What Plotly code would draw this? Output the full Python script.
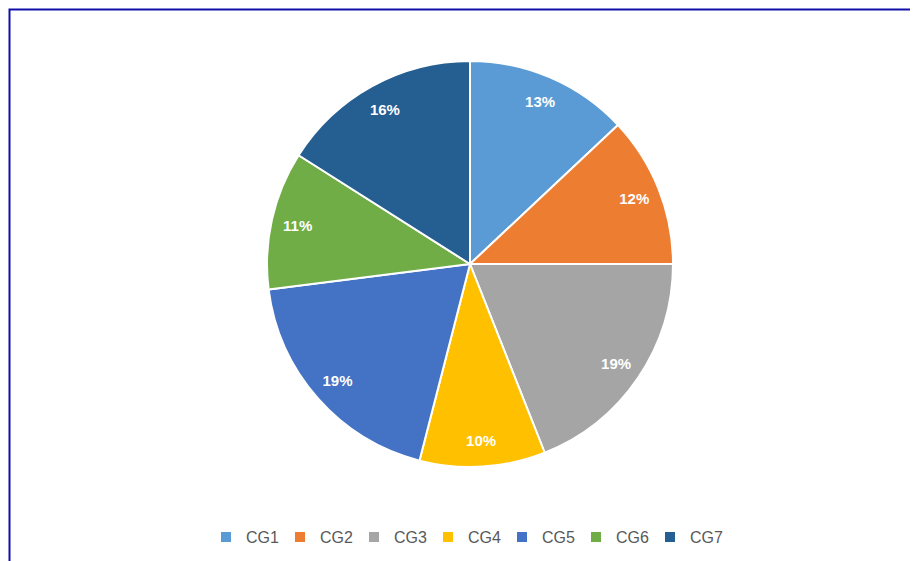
import plotly.graph_objects as go

categories = ["CG1", "CG2", "CG3", "CG4", "CG5", "CG6", "CG7"]
values = [13, 12, 19, 10, 19, 11, 16]
colors = ["#5B9BD5", "#ED7D31", "#A5A5A5", "#FFC000", "#4472C4", "#70AD47", "#255E91"]

W, H = 918, 561
OFF = 8  # page body margin
cx, cy, r = 470 - OFF, 264 - OFF, 203
dom = dict(x=[(cx - r) / W, (cx + r) / W], y=[(H - cy - r) / H, (H - cy + r) / H])

fig = go.Figure()
fig.add_trace(go.Pie(
    labels=categories,
    values=values,
    sort=False,
    direction="clockwise",
    rotation=0,
    marker=dict(colors=colors, line=dict(color="white", width=2)),
    textinfo="none",
    domain=dom,
    hoverinfo="label+percent",
))
# label ring: transparent donut carrying the percentage labels near the rim
fig.add_trace(go.Pie(
    labels=categories,
    values=values,
    sort=False,
    direction="clockwise",
    rotation=0,
    hole=0.74,
    marker=dict(colors=["rgba(0,0,0,0)"] * len(categories), line=dict(width=0)),
    texttemplate="%{percent:.0%}",
    textposition="inside",
    insidetextorientation="horizontal",
    textfont=dict(family="Arial, Liberation Sans", size=15, color="white", weight="bold"),
    domain=dom,
    showlegend=False,
    hoverinfo="skip",
))

fig.update_layout(
    width=W, height=H,
    margin=dict(l=0, r=0, t=0, b=0),
    paper_bgcolor="white",
    plot_bgcolor="white",
    showlegend=True,
    legend=dict(
        orientation="h",
        x=(465 - OFF) / W, xanchor="center",
        y=(H - 537 + OFF) / H, yanchor="middle",
        font=dict(family="Arial, Liberation Sans", size=16, color="#595959"),
        itemwidth=30,
        entrywidth=29,
        traceorder="normal",
    ),
    shapes=[dict(
        type="rect", xref="paper", yref="paper",
        x0=1.5 / W, y0=-0.1, x1=1.1, y1=(H - 1.5) / H,
        line=dict(color="#1010A8", width=2),
        fillcolor="rgba(0,0,0,0)",
    )],
)

fig.write_html("out.html")
